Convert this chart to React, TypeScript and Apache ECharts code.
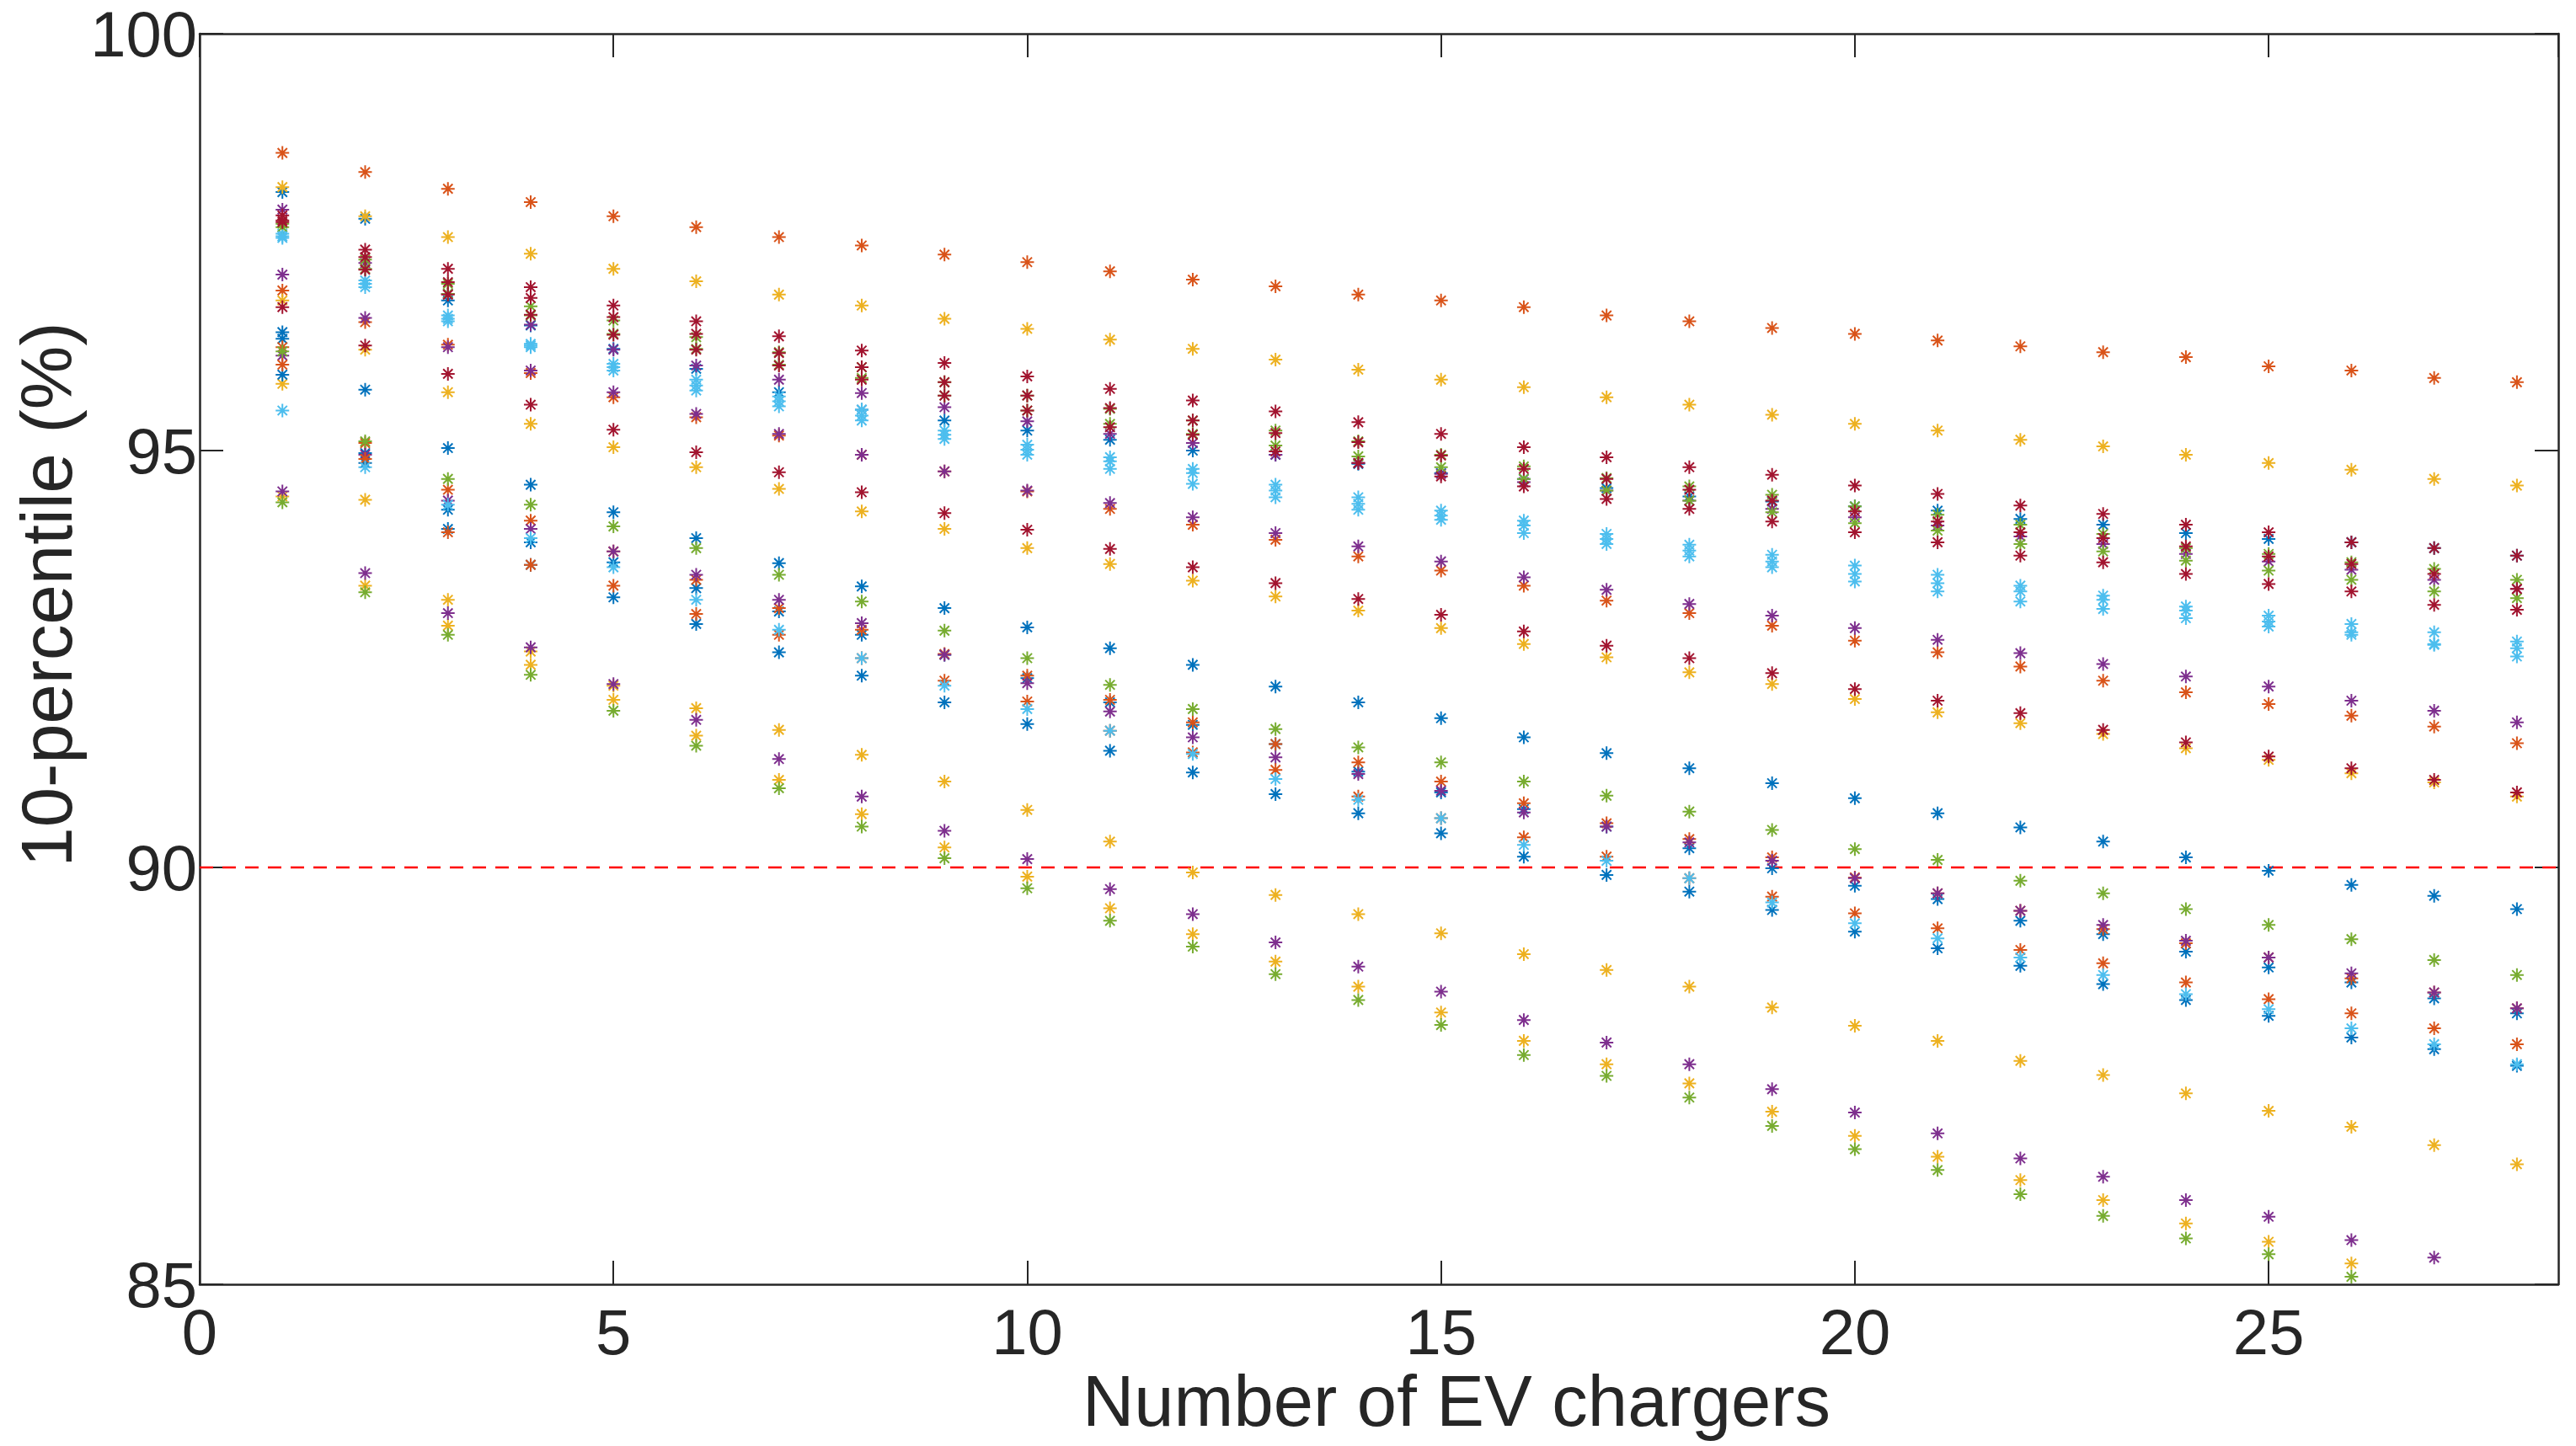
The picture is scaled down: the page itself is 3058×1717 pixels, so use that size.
import React, { useEffect, useRef } from "react";
import * as echarts from "echarts";

// x positions: number of EV chargers
const CHARGERS = [1, 2, 3, 4, 5, 6, 7, 8, 9, 10, 11, 12, 13, 14, 15, 16, 17, 18, 19, 20, 21, 22, 23, 24, 25, 26, 27, 28];

const X_TICKS = [0, 5, 10, 15, 20, 25];
const Y_TICKS = [85, 90, 95, 100];
const THRESHOLD = 90;

// 10-percentile (%) per curve, four curves per colour
const BLUE = [
  [98.10, 97.78, 96.80, 96.50, 96.22, 95.98, 95.70, 95.49, 95.36, 95.24, 95.13, 95.00, 94.95, 94.84, 94.73, 94.66, 94.55, 94.45, 94.39, 94.33, 94.28, 94.18, 94.11, 94.01, 93.94, 93.90, 93.83, 93.74],
  [96.42, 95.73, 95.03, 94.59, 94.26, 93.95, 93.65, 93.37, 93.11, 92.88, 92.63, 92.43, 92.17, 91.98, 91.79, 91.56, 91.37, 91.19, 91.01, 90.83, 90.65, 90.48, 90.31, 90.12, 89.96, 89.79, 89.66, 89.50],
  [96.34, 94.97, 94.29, 93.90, 93.66, 93.35, 93.07, 92.79, 92.55, 92.27, 91.98, 91.71, 91.48, 91.15, 90.90, 90.70, 90.49, 90.23, 89.99, 89.78, 89.62, 89.36, 89.20, 88.99, 88.80, 88.62, 88.43, 88.25],
  [95.91, 94.85, 94.06, 93.63, 93.24, 92.92, 92.58, 92.30, 91.98, 91.72, 91.40, 91.14, 90.88, 90.65, 90.41, 90.13, 89.91, 89.71, 89.49, 89.23, 89.03, 88.82, 88.60, 88.41, 88.22, 87.96, 87.82, 87.62],
];
const ORANGE = [
  [98.57, 98.34, 98.14, 97.98, 97.81, 97.68, 97.56, 97.46, 97.35, 97.26, 97.15, 97.05, 96.97, 96.87, 96.80, 96.72, 96.62, 96.55, 96.47, 96.40, 96.32, 96.25, 96.18, 96.12, 96.01, 95.96, 95.87, 95.82],
  [96.92, 96.54, 96.27, 95.93, 95.64, 95.40, 95.18, 94.95, 94.75, 94.51, 94.30, 94.11, 93.93, 93.73, 93.56, 93.38, 93.20, 93.05, 92.90, 92.72, 92.58, 92.41, 92.24, 92.10, 91.96, 91.82, 91.69, 91.49],
  [96.24, 95.09, 94.53, 94.16, 93.79, 93.45, 93.11, 92.85, 92.56, 92.30, 92.01, 91.74, 91.48, 91.26, 91.03, 90.77, 90.53, 90.34, 90.12, 89.88, 89.69, 89.48, 89.26, 89.09, 88.92, 88.67, 88.50, 88.31],
  [96.03, 94.90, 94.02, 93.63, 93.38, 93.04, 92.79, 92.51, 92.24, 91.99, 91.64, 91.38, 91.17, 90.85, 90.59, 90.36, 90.13, 89.87, 89.65, 89.45, 89.27, 89.01, 88.85, 88.62, 88.42, 88.25, 88.07, 87.88],
];
const YELLOW = [
  [98.16, 97.81, 97.56, 97.36, 97.18, 97.03, 96.87, 96.74, 96.58, 96.46, 96.33, 96.22, 96.09, 95.97, 95.85, 95.76, 95.64, 95.55, 95.43, 95.32, 95.24, 95.13, 95.05, 94.95, 94.85, 94.77, 94.66, 94.58],
  [96.80, 96.21, 95.70, 95.32, 95.04, 94.80, 94.54, 94.27, 94.06, 93.83, 93.64, 93.44, 93.25, 93.08, 92.87, 92.68, 92.52, 92.34, 92.20, 92.02, 91.86, 91.73, 91.60, 91.43, 91.29, 91.13, 91.02, 90.85],
  [95.80, 94.41, 93.21, 92.59, 92.18, 91.91, 91.65, 91.35, 91.03, 90.69, 90.31, 89.94, 89.67, 89.44, 89.21, 88.96, 88.77, 88.57, 88.32, 88.10, 87.92, 87.68, 87.51, 87.29, 87.08, 86.89, 86.67, 86.44],
  [94.45, 93.38, 92.90, 92.43, 92.01, 91.58, 91.05, 90.64, 90.24, 89.89, 89.51, 89.20, 88.87, 88.57, 88.26, 87.92, 87.64, 87.41, 87.07, 86.78, 86.53, 86.25, 86.01, 85.73, 85.51, 85.25, 84.98, 84.75],
];
const PURPLE = [
  [97.89, 97.25, 96.88, 96.51, 96.21, 96.02, 95.85, 95.69, 95.52, 95.35, 95.20, 95.09, 94.95, 94.85, 94.72, 94.62, 94.52, 94.40, 94.30, 94.20, 94.10, 93.97, 93.88, 93.76, 93.67, 93.57, 93.45, 93.34],
  [97.11, 96.59, 96.24, 95.96, 95.70, 95.44, 95.20, 94.95, 94.75, 94.52, 94.37, 94.20, 94.01, 93.85, 93.67, 93.48, 93.33, 93.16, 93.02, 92.87, 92.73, 92.57, 92.44, 92.29, 92.17, 92.00, 91.88, 91.74],
  [96.14, 94.95, 94.40, 94.06, 93.79, 93.51, 93.21, 92.93, 92.55, 92.21, 91.87, 91.56, 91.32, 91.12, 90.92, 90.66, 90.49, 90.30, 90.08, 89.87, 89.69, 89.48, 89.31, 89.12, 88.92, 88.73, 88.50, 88.31],
  [94.51, 93.53, 93.05, 92.64, 92.20, 91.77, 91.30, 90.85, 90.44, 90.10, 89.74, 89.44, 89.10, 88.81, 88.51, 88.17, 87.90, 87.64, 87.34, 87.06, 86.81, 86.51, 86.29, 86.01, 85.81, 85.53, 85.32, 84.95],
];
const GREEN = [
  [97.72, 97.29, 97.00, 96.73, 96.56, 96.36, 96.18, 96.00, 95.82, 95.66, 95.50, 95.36, 95.24, 95.11, 94.95, 94.81, 94.67, 94.57, 94.47, 94.33, 94.23, 94.11, 94.00, 93.83, 93.76, 93.66, 93.58, 93.45],
  [97.68, 97.18, 96.88, 96.62, 96.40, 96.22, 96.03, 95.87, 95.66, 95.48, 95.32, 95.20, 95.06, 94.93, 94.80, 94.66, 94.52, 94.40, 94.26, 94.13, 94.04, 93.88, 93.79, 93.68, 93.56, 93.45, 93.31, 93.23],
  [96.19, 95.11, 94.66, 94.35, 94.09, 93.83, 93.51, 93.19, 92.84, 92.51, 92.19, 91.90, 91.66, 91.44, 91.26, 91.03, 90.86, 90.67, 90.45, 90.22, 90.09, 89.84, 89.69, 89.50, 89.31, 89.14, 88.89, 88.71],
  [94.38, 93.30, 92.79, 92.31, 91.88, 91.46, 90.95, 90.49, 90.11, 89.75, 89.36, 89.05, 88.72, 88.41, 88.11, 87.75, 87.50, 87.24, 86.90, 86.62, 86.37, 86.08, 85.82, 85.55, 85.36, 85.09, 84.85, 84.60],
];
const LIGHT_BLUE = [
  [97.60, 97.04, 96.62, 96.28, 96.04, 95.85, 95.65, 95.49, 95.24, 95.07, 94.92, 94.78, 94.59, 94.44, 94.28, 94.16, 94.00, 93.87, 93.75, 93.62, 93.51, 93.38, 93.26, 93.13, 93.02, 92.92, 92.82, 92.71],
  [97.57, 97.00, 96.58, 96.26, 96.00, 95.78, 95.59, 95.42, 95.19, 95.01, 94.87, 94.73, 94.52, 94.36, 94.22, 94.10, 93.94, 93.80, 93.67, 93.52, 93.41, 93.31, 93.21, 93.08, 92.95, 92.82, 92.68, 92.63],
  [97.55, 96.96, 96.55, 96.24, 95.96, 95.72, 95.53, 95.36, 95.14, 94.95, 94.78, 94.60, 94.44, 94.29, 94.17, 94.01, 93.88, 93.73, 93.60, 93.43, 93.31, 93.19, 93.10, 92.99, 92.89, 92.79, 92.67, 92.53],
  [95.48, 94.80, 94.35, 93.95, 93.60, 93.21, 92.85, 92.51, 92.18, 91.90, 91.64, 91.36, 91.06, 90.81, 90.59, 90.27, 90.08, 89.87, 89.58, 89.33, 89.15, 88.92, 88.71, 88.48, 88.30, 88.07, 87.88, 87.64],
];
const DARK_RED = [
  [97.82, 97.41, 97.18, 96.96, 96.74, 96.55, 96.37, 96.20, 96.05, 95.89, 95.74, 95.60, 95.47, 95.34, 95.20, 95.04, 94.92, 94.80, 94.71, 94.58, 94.48, 94.34, 94.24, 94.11, 94.02, 93.90, 93.83, 93.74],
  [97.76, 97.32, 97.02, 96.83, 96.60, 96.40, 96.17, 96.00, 95.82, 95.66, 95.51, 95.36, 95.21, 95.10, 94.94, 94.78, 94.66, 94.53, 94.40, 94.27, 94.15, 94.02, 93.95, 93.85, 93.73, 93.64, 93.52, 93.34],
  [97.74, 97.17, 96.87, 96.63, 96.39, 96.21, 96.02, 95.85, 95.66, 95.48, 95.28, 95.19, 94.99, 94.85, 94.69, 94.57, 94.42, 94.30, 94.15, 94.02, 93.90, 93.74, 93.66, 93.52, 93.40, 93.31, 93.15, 93.09],
  [96.72, 96.26, 95.92, 95.55, 95.25, 94.98, 94.74, 94.50, 94.25, 94.05, 93.82, 93.60, 93.41, 93.22, 93.03, 92.83, 92.66, 92.51, 92.33, 92.14, 92.00, 91.85, 91.65, 91.50, 91.33, 91.19, 91.05, 90.90],
];

const GROUPS = [
  { color: "#0072BD", rows: BLUE },
  { color: "#D95319", rows: ORANGE },
  { color: "#EDB120", rows: YELLOW },
  { color: "#7E2F8E", rows: PURPLE },
  { color: "#77AC30", rows: GREEN },
  { color: "#4DBEEE", rows: LIGHT_BLUE },
  { color: "#A2142F", rows: DARK_RED },
];

const ASTERISK = "path://M0,-1L0,1M-1,0L1,0M-0.7,-0.7L0.7,0.7M-0.7,0.7L0.7,-0.7";
const AXIS_COLOR = "#262626";
const FONT = "Liberation Sans, Arial, Helvetica, sans-serif";

export default function App() {
  const ref = useRef<HTMLDivElement>(null);

  useEffect(() => {
    document.body.style.margin = "0";
    document.body.style.overflow = "hidden";
    if (!ref.current) return;
    const chart = echarts.init(ref.current, undefined, { renderer: "svg" });

    const series: any[] = [
      {
        type: "line",
        data: [
          [0, THRESHOLD],
          [28.5, THRESHOLD],
        ],
        showSymbol: false,
        symbol: "none",
        silent: true,
        z: 1,
        lineStyle: { color: "#FF0000", width: 2.5, type: [16, 11] },
      },
    ];
    for (let k = 0; k < 4; k++) {
      GROUPS.forEach((g) => {
        series.push({
          type: "scatter",
          data: g.rows[k].map((v, i) => [CHARGERS[i], v]),
          symbol: ASTERISK,
          symbolSize: 16,
          silent: true,
          clip: true,
          z: 2,
          itemStyle: { color: g.color, borderColor: g.color, borderWidth: 2, opacity: 1 },
          emphasis: { disabled: true },
        });
      });
    }

    const axisLine = { show: true, onZero: false, lineStyle: { color: AXIS_COLOR, width: 2.5 } };
    const axisTick = { show: true, inside: true, length: 28, lineStyle: { color: AXIS_COLOR, width: 2 } };

    chart.setOption({
      animation: false,
      backgroundColor: "#ffffff",
      grid: { left: 237, right: 21, top: 40, bottom: 192, containLabel: false },
      xAxis: [
        {
          type: "value",
          position: "bottom",
          min: 0,
          max: 28.5,
          interval: 5,
          axisLine,
          axisTick,
          splitLine: { show: false },
          axisLabel: {
            show: true,
            margin: 28,
            fontSize: 76,
            lineHeight: 56,
            color: AXIS_COLOR,
            fontFamily: FONT,
            showMaxLabel: false,
            formatter: (v: number) => (X_TICKS.includes(v) ? String(v) : ""),
          },
        },
        {
          type: "value",
          position: "top",
          min: 0,
          max: 28.5,
          interval: 5,
          axisLine,
          axisTick,
          splitLine: { show: false },
          axisLabel: { show: false },
        },
      ],
      yAxis: [
        {
          type: "value",
          position: "left",
          min: 85,
          max: 100,
          interval: 5,
          axisLine,
          axisTick,
          splitLine: { show: false },
          axisLabel: {
            show: true,
            margin: 3,
            fontSize: 76,
            lineHeight: 50,
            color: AXIS_COLOR,
            fontFamily: FONT,
            formatter: (v: number) => (Y_TICKS.includes(v) ? String(v) : ""),
          },
        },
        {
          type: "value",
          position: "right",
          min: 85,
          max: 100,
          interval: 5,
          axisLine,
          axisTick,
          splitLine: { show: false },
          axisLabel: { show: false },
        },
      ],
      graphic: [
        {
          type: "text",
          x: 1729,
          y: 1663,
          silent: true,
          style: {
            text: "Number of EV chargers",
            fontSize: 85,
            fontFamily: FONT,
            fill: AXIS_COLOR,
            textAlign: "center",
            textVerticalAlign: "middle",
          },
        },
        {
          type: "text",
          x: 55,
          y: 706,
          rotation: Math.PI / 2,
          silent: true,
          style: {
            text: "10-percentile (%)",
            fontSize: 85,
            fontFamily: FONT,
            fill: AXIS_COLOR,
            textAlign: "center",
            textVerticalAlign: "middle",
          },
        },
      ],
      series,
    });

    return () => {
      chart.dispose();
    };
  }, []);

  return <div ref={ref} style={{ width: "3058px", height: "1717px" }} />;
}
